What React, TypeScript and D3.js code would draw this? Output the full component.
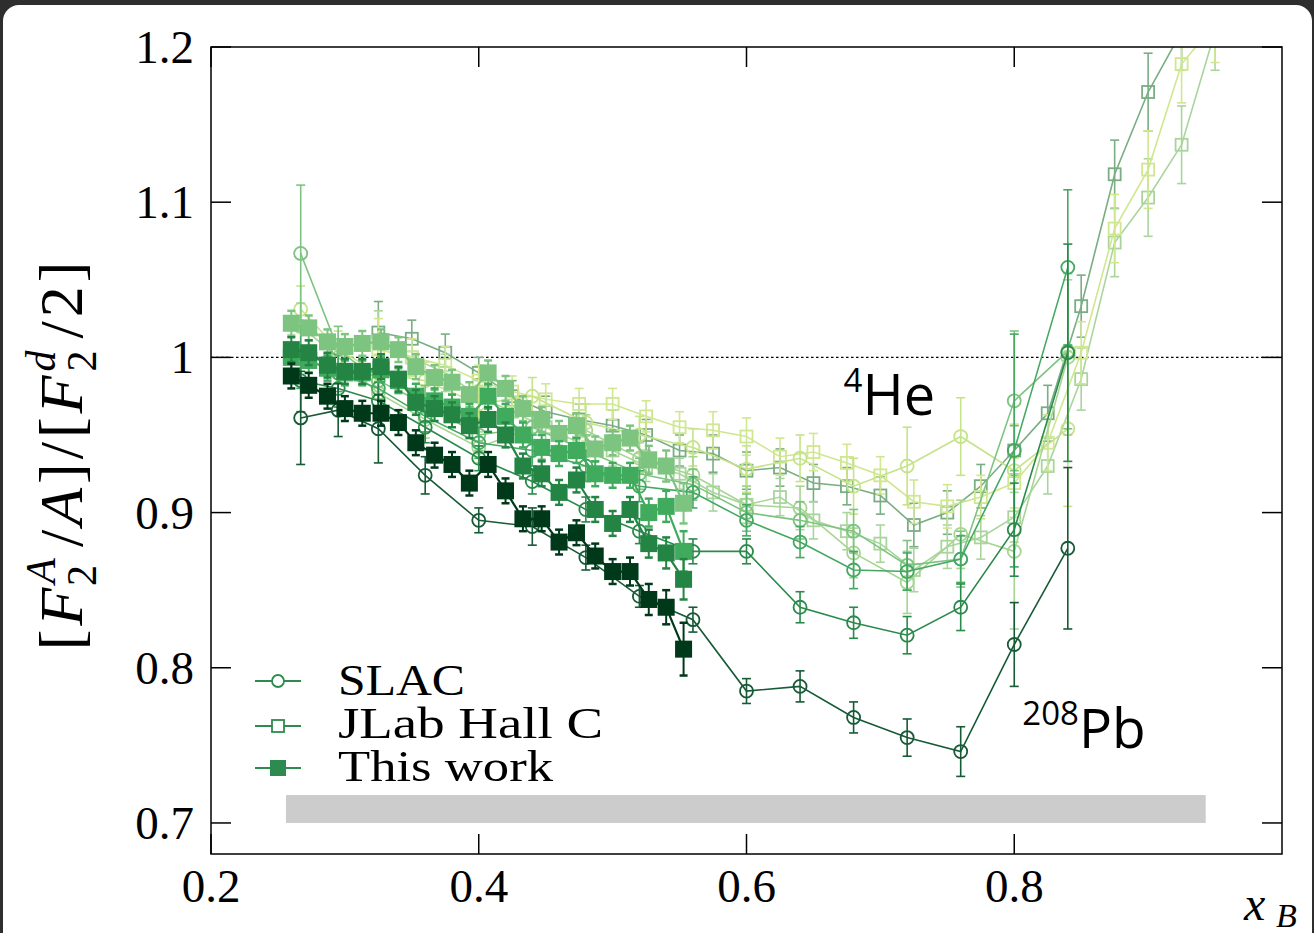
import React from 'react';
import * as d3 from 'd3';

const W = 1314;
const H = 933;

// axes
const xDomain = [0.2, 1.0];
const yDomain = [0.68, 1.2];
const xTicks = [0.2, 0.4, 0.6, 0.8];
const xTickLabels = ['0.2', '0.4', '0.6', '0.8'];
const yTicks = [0.7, 0.8, 0.9, 1.0, 1.1, 1.2];
const yTickLabels = ['0.7', '0.8', '0.9', '1', '1.1', '1.2'];

// "This work" (filled squares)
const twX = [0.260, 0.273, 0.287, 0.300, 0.313, 0.327, 0.340, 0.353, 0.367, 0.380, 0.393, 0.407, 0.420, 0.433, 0.447, 0.460, 0.473, 0.487, 0.500, 0.513, 0.527, 0.540, 0.553];
const twC = [1.022, 1.019, 1.010, 1.007, 1.009, 1.010, 1.005, 0.994, 0.987, 0.984, 0.976, 0.990, 0.980, 0.967, 0.960, 0.951, 0.956, 0.941, 0.945, 0.948, 0.934, 0.930, 0.906];
const twAl = [1.000, 0.998, 0.993, 0.990, 0.990, 0.992, 0.985, 0.975, 0.972, 0.968, 0.962, 0.975, 0.962, 0.950, 0.942, 0.938, 0.940, 0.925, 0.924, 0.924, 0.900, 0.904, 0.875];
const twFe = [1.005, 1.003, 0.995, 0.991, 0.991, 0.994, 0.986, 0.971, 0.967, 0.963, 0.956, 0.960, 0.950, 0.930, 0.925, 0.913, 0.921, 0.902, 0.893, 0.902, 0.880, 0.874, 0.857];
const twPb = [0.988, 0.982, 0.975, 0.967, 0.964, 0.964, 0.958, 0.945, 0.937, 0.931, 0.919, 0.931, 0.914, 0.896, 0.896, 0.881, 0.887, 0.872, 0.862, 0.862, 0.844, 0.839, 0.812];
const twErrSmall = [0.008, 0.008, 0.008, 0.008, 0.008, 0.008, 0.008, 0.008, 0.008, 0.008, 0.008, 0.008, 0.008, 0.008, 0.008, 0.008, 0.008, 0.008, 0.008, 0.008, 0.009, 0.010, 0.013];
const twErrPb = [0.008, 0.008, 0.008, 0.008, 0.008, 0.008, 0.008, 0.008, 0.008, 0.008, 0.008, 0.008, 0.008, 0.008, 0.008, 0.008, 0.008, 0.008, 0.008, 0.009, 0.010, 0.011, 0.017];

// SLAC (open circles)
const slacX = [0.267, 0.295, 0.325, 0.36, 0.40, 0.44, 0.48, 0.52, 0.56, 0.60, 0.64, 0.68, 0.72, 0.76, 0.80, 0.84];
const slacHe = [1.031, 1.005, 0.990, 0.985, 0.970, 0.975, 0.958, 0.950, 0.942, 0.928, 0.935, 0.917, 0.930, 0.949, 0.927, 0.954];
const slacB = [1.020, 1.000, 0.977, 0.960, 0.942, 0.955, 0.953, 0.935, 0.924, 0.905, 0.903, 0.874, 0.855, 0.886, 0.875, 1.000];
const slacC = [1.067, 1.005, 0.985, 0.970, 0.950, 0.955, 0.940, 0.925, 0.918, 0.900, 0.895, 0.888, 0.866, 0.870, 0.972, 1.004];
const slacD = [1.000, 0.990, 0.980, 0.962, 0.945, 0.940, 0.930, 0.917, 0.913, 0.895, 0.881, 0.863, 0.862, 0.870, 0.940, 1.058];
const slacE = [0.985, 0.980, 0.972, 0.955, 0.935, 0.920, 0.902, 0.888, 0.875, 0.875, 0.839, 0.829, 0.821, 0.839, 0.889, 1.003];
const slacAu = [0.961, 0.966, 0.954, 0.924, 0.895, 0.891, 0.871, 0.846, 0.831, 0.785, 0.788, 0.768, 0.755, 0.746, 0.815, 0.877];
const slacErrHe = [0.015, 0.012, 0.012, 0.012, 0.012, 0.012, 0.012, 0.012, 0.012, 0.015, 0.015, 0.018, 0.025, 0.025, 0.030, 0.050];
const slacErrB = [0.015, 0.012, 0.012, 0.012, 0.010, 0.010, 0.010, 0.010, 0.012, 0.012, 0.014, 0.016, 0.020, 0.022, 0.050, 0.050];
const slacErrC = [0.044, 0.015, 0.012, 0.012, 0.010, 0.010, 0.010, 0.010, 0.010, 0.012, 0.012, 0.014, 0.016, 0.018, 0.045, 0.050];
const slacErrD = [0.020, 0.012, 0.012, 0.010, 0.010, 0.010, 0.010, 0.010, 0.010, 0.010, 0.010, 0.012, 0.012, 0.015, 0.075, 0.050];
const slacErrE = [0.020, 0.012, 0.012, 0.010, 0.008, 0.008, 0.008, 0.008, 0.008, 0.008, 0.010, 0.010, 0.012, 0.015, 0.030, 0.070];
const slacErrAu = [0.030, 0.017, 0.022, 0.012, 0.008, 0.012, 0.008, 0.007, 0.008, 0.008, 0.010, 0.010, 0.012, 0.016, 0.027, 0.052];

// JLab Hall C (open squares)
const jlabX = [0.325, 0.35, 0.375, 0.40, 0.425, 0.45, 0.475, 0.50, 0.525, 0.55, 0.575, 0.60, 0.625, 0.65, 0.675, 0.70, 0.725, 0.75, 0.775, 0.80, 0.825, 0.85, 0.875, 0.90, 0.925, 0.95];
const jlabHe = [1.005, 1.000, 0.995, 0.985, 0.978, 0.973, 0.970, 0.970, 0.962, 0.955, 0.953, 0.949, 0.936, 0.939, 0.932, 0.924, 0.907, 0.904, 0.910, 0.919, 0.945, 1.003, 1.083, 1.121, 1.189, 1.215];
const jlabBe = [1.010, 1.000, 0.990, 0.975, 0.965, 0.955, 0.945, 0.940, 0.930, 0.925, 0.913, 0.905, 0.910, 0.895, 0.888, 0.880, 0.863, 0.878, 0.884, 0.897, 0.930, 0.986, 1.074, 1.103, 1.137, 1.210];
const jlabC = [1.016, 1.012, 1.003, 0.990, 0.975, 0.965, 0.960, 0.956, 0.950, 0.940, 0.938, 0.927, 0.929, 0.919, 0.917, 0.911, 0.892, 0.900, 0.917, 0.940, 0.964, 1.033, 1.118, 1.171, 1.210, 1.250];
const jlabErr = [0.020, 0.012, 0.012, 0.010, 0.010, 0.010, 0.010, 0.010, 0.010, 0.010, 0.012, 0.012, 0.012, 0.012, 0.012, 0.012, 0.014, 0.014, 0.014, 0.016, 0.018, 0.020, 0.022, 0.025, 0.025, 0.025];

// systematic band
const bandX = [0.256, 0.943];
const bandY = [0.700, 0.718];

const colors = {
  slacHe: '#c5e389',
  slacB: '#a6d592',
  slacC: '#7cc47f',
  slacD: '#45a862',
  slacE: '#2a8a4a',
  slacAu: '#165a36',
  jlabHe: '#cfe78f',
  jlabBe: '#a9d59d',
  jlabC: '#79ad83',
  twC: '#7cc47f',
  twAl: '#41ab5d',
  twFe: '#238443',
  twPb: '#00391a',
  legend: '#2e8b4f',
};

const margin = { left: 211, right: 1282, top: 47, bottom: 854 };
const x = d3.scaleLinear().domain(xDomain).range([margin.left, margin.right]);
const y = d3.scaleLinear().domain(yDomain).range([margin.bottom, margin.top]);

type Marker = 'circle' | 'square' | 'filled';

function Series({ xs, ys, errs, color, marker, lw }: { xs: number[]; ys: number[]; errs: number[]; color: string; marker: Marker; lw: number }) {
  const line = d3.line<number>().x((_, i) => x(xs[i])).y((d) => y(d));
  const capW = marker === 'filled' ? 4 : 4.5;
  return (
    <g>
      <path d={line(ys) || ''} fill="none" stroke={color} strokeWidth={lw} />
      {ys.map((v, i) => {
        const cx = x(xs[i]);
        const cy = y(v);
        const y1 = y(v + errs[i]);
        const y2 = y(v - errs[i]);
        return (
          <g key={i}>
            <line x1={cx} x2={cx} y1={y1} y2={y2} stroke={color} strokeWidth={marker === 'filled' ? 2 : 1.6} />
            <line x1={cx - capW} x2={cx + capW} y1={y1} y2={y1} stroke={color} strokeWidth={marker === 'filled' ? 2.5 : 1.6} />
            <line x1={cx - capW} x2={cx + capW} y1={y2} y2={y2} stroke={color} strokeWidth={marker === 'filled' ? 2.5 : 1.6} />
            {marker === 'circle' && <circle cx={cx} cy={cy} r={6.5} fill="none" stroke={color} strokeWidth={1.8} />}
            {marker === 'square' && <rect x={cx - 6} y={cy - 6} width={12} height={12} fill="none" stroke={color} strokeWidth={1.8} />}
            {marker === 'filled' && <rect x={cx - 8.5} y={cy - 8.5} width={17} height={17} fill={color} stroke="none" />}
          </g>
        );
      })}
    </g>
  );
}

export default function App() {
  const serif = '"Liberation Serif", "DejaVu Serif", serif';
  const sans = '"Open Sans", "Noto Sans", sans-serif';
  const tickLen = 20;
  return (
    <svg width={W} height={H} style={{ position: 'absolute', left: 0, top: 0 }} xmlns="http://www.w3.org/2000/svg">
      <rect x={0} y={0} width={W} height={H} fill="#2e2e2e" />
      <rect x={3} y={5} width={W - 5} height={H + 20} rx={16} fill="#ffffff" />
      <defs>
        <clipPath id="plotClip">
          <rect x={margin.left} y={margin.top} width={margin.right - margin.left} height={margin.bottom - margin.top} />
        </clipPath>
      </defs>

      {/* band */}
      <rect x={x(bandX[0])} y={y(bandY[1])} width={x(bandX[1]) - x(bandX[0])} height={y(bandY[0]) - y(bandY[1])} fill="#cccccc" />

      {/* unity line */}
      <line x1={margin.left} x2={margin.right} y1={y(1)} y2={y(1)} stroke="#000" strokeWidth={1.3} strokeDasharray="2.5,2.5" />

      <g clipPath="url(#plotClip)">
        <Series xs={jlabX} ys={jlabC} errs={jlabErr} color={colors.jlabC} marker="square" lw={1.6} />
        <Series xs={jlabX} ys={jlabBe} errs={jlabErr} color={colors.jlabBe} marker="square" lw={1.6} />
        <Series xs={jlabX} ys={jlabHe} errs={jlabErr} color={colors.jlabHe} marker="square" lw={1.6} />
        <Series xs={slacX} ys={slacHe} errs={slacErrHe} color={colors.slacHe} marker="circle" lw={1.6} />
        <Series xs={slacX} ys={slacB} errs={slacErrB} color={colors.slacB} marker="circle" lw={1.6} />
        <Series xs={slacX} ys={slacC} errs={slacErrC} color={colors.slacC} marker="circle" lw={1.6} />
        <Series xs={slacX} ys={slacD} errs={slacErrD} color={colors.slacD} marker="circle" lw={1.6} />
        <Series xs={slacX} ys={slacE} errs={slacErrE} color={colors.slacE} marker="circle" lw={1.6} />
        <Series xs={slacX} ys={slacAu} errs={slacErrAu} color={colors.slacAu} marker="circle" lw={1.6} />
        <Series xs={twX} ys={twC} errs={twErrSmall} color={colors.twC} marker="filled" lw={2.2} />
        <Series xs={twX} ys={twAl} errs={twErrSmall} color={colors.twAl} marker="filled" lw={2.2} />
        <Series xs={twX} ys={twFe} errs={twErrSmall} color={colors.twFe} marker="filled" lw={2.2} />
        <Series xs={twX} ys={twPb} errs={twErrPb} color={colors.twPb} marker="filled" lw={2.2} />
      </g>

      {/* frame */}
      <rect x={margin.left} y={margin.top} width={margin.right - margin.left} height={margin.bottom - margin.top} fill="none" stroke="#000" strokeWidth={1.5} />
      {xTicks.map((t, i) => (
        <g key={'xt' + i}>
          <line x1={x(t)} x2={x(t)} y1={margin.bottom} y2={margin.bottom - tickLen} stroke="#000" strokeWidth={1.5} />
          <line x1={x(t)} x2={x(t)} y1={margin.top} y2={margin.top + tickLen} stroke="#000" strokeWidth={1.5} />
          <text x={x(t)} y={902} textAnchor="middle" fontFamily={serif} fontSize={47}>{xTickLabels[i]}</text>
        </g>
      ))}
      {yTicks.map((t, i) => (
        <g key={'yt' + i}>
          <line x1={margin.left} x2={margin.left + tickLen} y1={y(t)} y2={y(t)} stroke="#000" strokeWidth={1.5} />
          <line x1={margin.right} x2={margin.right - tickLen} y1={y(t)} y2={y(t)} stroke="#000" strokeWidth={1.5} />
          <text x={194} y={y(t) + 16} textAnchor="end" fontFamily={serif} fontSize={47}>{yTickLabels[i]}</text>
        </g>
      ))}

      {/* axis titles */}
      <text x={1244} y={920} fontFamily={serif} fontStyle="italic" fontSize={48}>x</text>
      <text x={1276} y={927} fontFamily={serif} fontStyle="italic" fontSize={34}>B</text>

      <text transform="translate(82,454) rotate(-90)" textAnchor="middle" fontFamily={serif} fontSize={62} letterSpacing={4}>
        <tspan>[</tspan>
        <tspan fontStyle="italic">F</tspan>
        <tspan fontStyle="italic" fontSize={42} dy={-27}>A</tspan>
        <tspan fontSize={42} dx={-32} dy={41}>2</tspan>
        <tspan dx={14} dy={-14}>/</tspan>
        <tspan fontStyle="italic">A</tspan>
        <tspan>]/[</tspan>
        <tspan fontStyle="italic">F</tspan>
        <tspan fontStyle="italic" fontSize={42} dy={-27}>d</tspan>
        <tspan fontSize={42} dx={-25} dy={41}>2</tspan>
        <tspan dx={8} dy={-14}>/2]</tspan>
      </text>

      {/* annotations */}
      <text x={x(0.6725)} y={y(0.963)} fontFamily={sans} fontSize={56}>
        <tspan fontSize={33} dy={-23}>4</tspan>
        <tspan dy={23}>He</tspan>
      </text>
      <text x={x(0.806)} y={y(0.7485)} fontFamily={sans} fontSize={55}>
        <tspan fontSize={33} dy={-23}>208</tspan>
        <tspan dy={23}>Pb</tspan>
      </text>

      {/* legend */}
      <g>
        <line x1={255} x2={301} y1={681} y2={681} stroke={colors.legend} strokeWidth={1.8} />
        <circle cx={278} cy={681} r={6} fill="#fff" stroke={colors.legend} strokeWidth={1.8} />
        <text x={338} y={695} fontFamily={serif} fontSize={44} textLength={127} lengthAdjust="spacingAndGlyphs">SLAC</text>
        <line x1={255} x2={301} y1={726} y2={726} stroke={colors.legend} strokeWidth={1.8} />
        <rect x={272} y={720} width={12} height={12} fill="#fff" stroke={colors.legend} strokeWidth={1.8} />
        <text x={338} y={738} fontFamily={serif} fontSize={44} textLength={265} lengthAdjust="spacingAndGlyphs">JLab Hall C</text>
        <line x1={255} x2={301} y1={768} y2={768} stroke={colors.legend} strokeWidth={2.2} />
        <rect x={270} y={760} width={16} height={16} fill={colors.legend} />
        <text x={338} y={781} fontFamily={serif} fontSize={44} textLength={215} lengthAdjust="spacingAndGlyphs">This work</text>
      </g>
    </svg>
  );
}
